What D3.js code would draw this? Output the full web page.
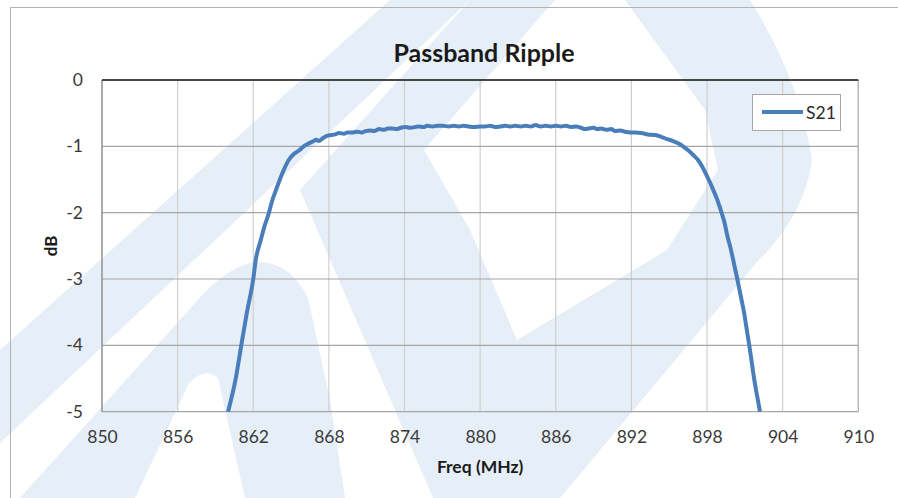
<!DOCTYPE html>
<html>
<head>
<meta charset="utf-8">
<script src="https://cdn.jsdelivr.net/npm/d3@7"></script>
<style>
  body { margin: 0; background: #fff; }
  svg text { font-family: Lato, "Liberation Sans", sans-serif; }
</style>
</head>
<body>
<div id="chart"></div>
<script>
const freq = [
  860.0, 860.6, 861.05, 861.5, 862.0, 862.2, 862.6, 862.9, 863.2, 863.5, 863.8, 864.3, 864.8, 865.2, 865.65, 866.0,
  866.4, 866.8, 867.0, 867.2, 867.5, 867.8, 868.2, 868.5, 868.8, 869.2, 869.5, 869.9, 870.3, 870.6, 870.9, 871.3,
  871.6, 872.0, 872.4, 872.7, 873.0, 873.4, 873.7, 874.1, 874.5, 874.8, 875.1, 875.5, 875.8, 876.2, 876.6, 877.0,
  877.5, 877.9, 878.3, 878.7, 879.1, 879.5, 880.0, 880.4, 880.8, 881.2, 881.6, 882.0, 882.4, 882.8, 883.2, 883.6,
  884.0, 884.4, 884.8, 885.2, 885.6, 886.0, 886.4, 886.8, 887.2, 887.6, 888.0, 888.3, 888.6, 889.0, 889.3, 889.6,
  890.0, 890.4, 890.7, 891.1, 891.5, 891.9, 892.3, 892.8, 893.3, 893.9, 894.4, 894.9, 895.3, 895.7, 896.1, 896.5,
  896.9, 897.3, 897.6, 897.9, 898.2, 898.5, 898.8, 899.0, 899.2, 899.4, 899.6, 899.9, 900.15, 900.4, 900.7, 900.95,
  901.15, 901.35, 901.55, 901.75, 901.95, 902.2
];
const s21 = [
  -5.0, -4.51, -4.0, -3.5, -3.0, -2.71, -2.41, -2.2, -2.03, -1.82, -1.66, -1.41, -1.21, -1.12, -1.06, -1.0,
  -0.955, -0.92, -0.9, -0.92, -0.88, -0.845, -0.83, -0.82, -0.8, -0.81, -0.79, -0.79, -0.78, -0.79, -0.77, -0.76,
  -0.77, -0.74, -0.75, -0.73, -0.73, -0.74, -0.72, -0.71, -0.72, -0.71, -0.7, -0.71, -0.69, -0.7, -0.69, -0.69,
  -0.7, -0.69, -0.7, -0.69, -0.7, -0.71, -0.7, -0.7, -0.69, -0.71, -0.7, -0.69, -0.7, -0.69, -0.7, -0.69,
  -0.7, -0.68, -0.7, -0.69, -0.7, -0.69, -0.7, -0.69, -0.71, -0.7, -0.72, -0.74, -0.73, -0.72, -0.74, -0.73,
  -0.75, -0.74, -0.77, -0.76, -0.78, -0.79, -0.79, -0.8, -0.82, -0.83, -0.86, -0.895, -0.92, -0.955, -1.0, -1.06,
  -1.13, -1.21, -1.3, -1.41, -1.53, -1.66, -1.8, -1.91, -2.03, -2.16, -2.34, -2.56, -2.78, -3.0, -3.28, -3.52,
  -3.76, -4.0, -4.26, -4.52, -4.74, -5.0
];
const xTicks = [850, 856, 862, 868, 874, 880, 886, 892, 898, 904, 910];
const yTicks = [0, -1, -2, -3, -4, -5];
const seriesName = "S21";
const chartTitle = "Passband Ripple";
const xTitle = "Freq (MHz)";
const yTitle = "dB";

const width = 898, height = 498;
const margin = { left: 102, top: 80, right: 898 - 858.3, bottom: 498 - 411.7 };

const svg = d3.select("#chart").append("svg")
  .attr("width", width)
  .attr("height", height);

// faint logo watermark behind the chart
const wm = svg.append("g").attr("fill", "#e6eef7").attr("fill-rule", "evenodd");
const logoShapes = [
  "M0,350 L390,0 L470,0 L0,443 Z",
  "M20,498 L205,292 Q235,262 262,262 Q292,265 308,298 L330,400 L345,498 Z M135,498 L188,385 Q203,366 218,378 L245,498 Z",
  "M433,498 L300,190 L470,0 L750,0 Q800,80 812,160 Q805,215 757,262 L560,498 Z M555,0 L625,0 L705,110 L718,170 L667,250 L517,340 L470,230 L424,150 Z"
];
wm.selectAll("path").data(logoShapes).join("path").attr("d", d => d);

// chart frame
svg.append("rect")
  .attr("x", 10.5).attr("y", 7.5)
  .attr("width", 900).attr("height", 500)
  .attr("fill", "none")
  .attr("stroke", "#b3b3b3");

const x = d3.scaleLinear().domain([850, 910]).range([margin.left, width - margin.right]);
const y = d3.scaleLinear().domain([0, -5]).range([margin.top, height - margin.bottom]);

// gridlines
svg.append("g").selectAll("line")
  .data(xTicks)
  .join("line")
  .attr("x1", d => x(d)).attr("x2", d => x(d))
  .attr("y1", y(0)).attr("y2", y(-5))
  .attr("stroke", "#cfcfcf").attr("stroke-width", 1.2);

svg.append("g").selectAll("line")
  .data(yTicks)
  .join("line")
  .attr("x1", x(850)).attr("x2", x(910))
  .attr("y1", d => y(d)).attr("y2", d => y(d))
  .attr("stroke", "#a6a6a6").attr("stroke-width", 1.2);

// right border and axis lines
svg.append("line")
  .attr("x1", x(910)).attr("x2", x(910)).attr("y1", y(0)).attr("y2", y(-5))
  .attr("stroke", "#b3b3b3").attr("stroke-width", 1.2);
svg.append("line")
  .attr("x1", x(850)).attr("x2", x(850)).attr("y1", y(0)).attr("y2", y(-5))
  .attr("stroke", "#8c8c8c").attr("stroke-width", 1.3);
svg.append("line")
  .attr("x1", x(850)).attr("x2", x(910)).attr("y1", y(0)).attr("y2", y(0))
  .attr("stroke", "#1a1a1a").attr("stroke-width", 1.6);

// axes (labels only), plain hyphen for negatives like the original
const fmt = d => String(d);
const xAxis = svg.append("g")
  .attr("transform", `translate(0,${y(-5)})`)
  .call(d3.axisBottom(x).tickValues(xTicks).tickSize(0).tickPadding(19).tickFormat(fmt));
const yAxis = svg.append("g")
  .attr("transform", `translate(${x(850)},0)`)
  .call(d3.axisLeft(y).tickValues(yTicks).tickSize(0).tickPadding(19).tickFormat(fmt));
[xAxis, yAxis].forEach(a => {
  a.select(".domain").remove();
  a.selectAll("text")
    .attr("font-family", "Lato, 'Liberation Sans', sans-serif")
    .attr("font-size", 17.5)
    .attr("fill", "#3a3a3a");
});

// the curve
const line = d3.line()
  .x((d, i) => x(freq[i]))
  .y(d => y(d))
  .curve(d3.curveMonotoneX);

svg.append("path")
  .datum(s21)
  .attr("d", line)
  .attr("fill", "none")
  .attr("stroke", "#4a7ebb")
  .attr("stroke-width", 4)
  .attr("stroke-linejoin", "round");

// titles
svg.append("text")
  .attr("x", 484).attr("y", 62)
  .attr("text-anchor", "middle")
  .attr("font-size", 25).attr("font-weight", "bold")
  .attr("fill", "#1a1a1a")
  .text(chartTitle);

svg.append("text")
  .attr("x", (x(850) + x(910)) / 2).attr("y", 473)
  .attr("text-anchor", "middle")
  .attr("font-size", 17.5).attr("font-weight", "bold")
  .attr("fill", "#1a1a1a")
  .text(xTitle);

svg.append("text")
  .attr("transform", `translate(57,${(y(0) + y(-5)) / 2}) rotate(-90)`)
  .attr("text-anchor", "middle")
  .attr("font-size", 17).attr("font-weight", "bold")
  .attr("fill", "#1a1a1a")
  .text(yTitle);

// legend
const leg = svg.append("g").attr("transform", "translate(752,94)");
leg.append("rect")
  .attr("x", 0.5).attr("y", 0.5).attr("width", 88).attr("height", 36)
  .attr("fill", "#fff").attr("stroke", "#a6a6a6");
leg.append("line")
  .attr("x1", 10).attr("x2", 51).attr("y1", 18).attr("y2", 18)
  .attr("stroke", "#4a7ebb").attr("stroke-width", 4);
leg.append("text")
  .attr("x", 54).attr("y", 24.5)
  .attr("font-size", 17.5).attr("fill", "#2a2a2a")
  .text(seriesName);
</script>
</body>
</html>
